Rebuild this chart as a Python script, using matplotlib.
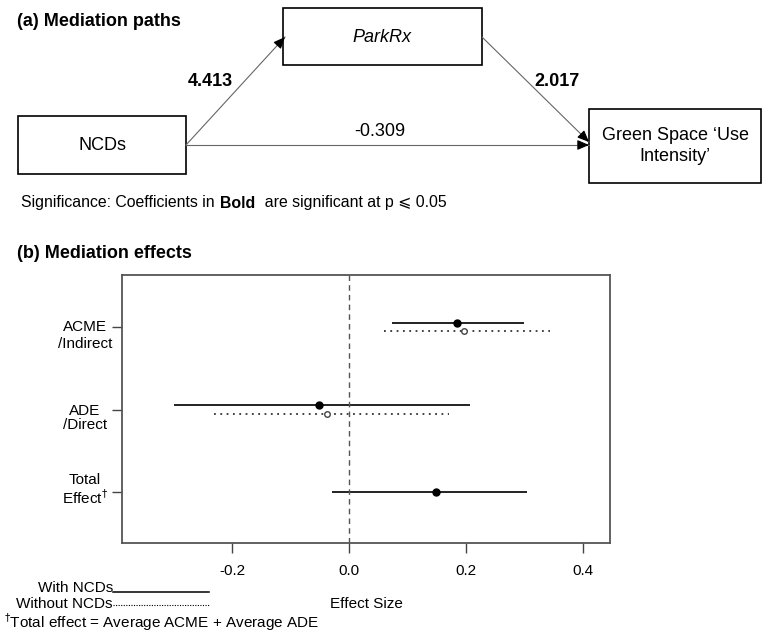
import matplotlib.pyplot as plt
import numpy as np
from matplotlib.patches import Rectangle
from matplotlib.transforms import blended_transform_factory

plt.rcParams['font.family'] = ['Liberation Sans', 'DejaVu Sans']

# Panel (a): path coefficients
coef_a = "4.413"      # NCDs -> ParkRx
coef_b = "2.017"      # ParkRx -> Green space use
coef_c = "-0.309"     # NCDs -> Green space use (direct)

# Panel (b): mediation effects (estimate, lower, upper)
effects = ['ACME', 'ADE', 'Total']
with_est = [0.184, -0.051, 0.148]
with_lo = [0.074, -0.299, -0.029]
with_hi = [0.299, 0.207, 0.305]
without_est = [0.197, -0.038]
without_lo = [0.059, -0.230]
without_hi = [0.344, 0.170]
ypos = [3, 2, 1]

fig = plt.figure(figsize=(7.7, 6.41), dpi=100)

# overlay in pixel coordinates for the diagram and notes
oa = fig.add_axes([0, 0, 1, 1])
oa.set_xlim(0, 770)
oa.set_ylim(641, 0)
oa.axis('off')

oa.text(17, 22, "(a) Mediation paths", fontsize=13, fontweight='bold', va='center')
oa.text(17, 253, "(b) Mediation effects", fontsize=13, fontweight='bold', va='center')

# boxes
for (x0, y0, x1, y1) in [(283, 8, 482, 65), (18, 116, 186, 174), (589, 109, 761, 183)]:
    oa.add_patch(Rectangle((x0, y0), x1 - x0, y1 - y0, fill=False, ec='black', lw=1.2))
oa.text(382, 37, "ParkRx", fontsize=13, style='italic', ha='center', va='center')
oa.text(102, 146, "NCDs", fontsize=13, ha='center', va='center')
oa.text(675, 146, "Green Space \u2018Use\nIntensity\u2019", fontsize=13, ha='center',
        va='center', linespacing=1.3)

# paths: thin grey line with a small black head
paths = [((186, 145), (285, 37)), ((186, 145), (589, 145)), ((482, 37), (589, 142))]
head_kw = dict(arrowstyle='-|>,head_length=0.7,head_width=0.3', color='black', lw=0.8,
               shrinkA=0, shrinkB=0)
for (x0, y0), (x1, y1) in paths:
    oa.plot([x0, x1], [y0, y1], color='#666666', lw=0.8)
    d = np.hypot(x1 - x0, y1 - y0)
    bx, by = x1 - (x1 - x0) / d * 3, y1 - (y1 - y0) / d * 3
    oa.annotate("", xy=(x1, y1), xytext=(bx, by), arrowprops=head_kw)

oa.text(210, 82, coef_a, fontsize=13, fontweight='bold', ha='center', va='center')
oa.text(557, 82, coef_b, fontsize=13, fontweight='bold', ha='center', va='center')
oa.text(380, 132, coef_c, fontsize=13, ha='center', va='center')

t1 = oa.text(21, 203, "Significance: Coefficients in ", fontsize=11.4, va='center')
t2 = oa.annotate("Bold", xy=(1, 0), xycoords=t1, xytext=(1, 0), textcoords='offset points',
                 fontsize=11.4, fontweight='bold', va='bottom')
oa.annotate("  are significant at p \u2a7d 0.05", xy=(1, 0), xycoords=t2, fontsize=11.4,
            va='bottom')

# legend and footnote
oa.text(113, 588, "With NCDs", fontsize=11, ha='right', va='center')
oa.plot([113, 209], [592, 592], color='black', lw=1.1)
oa.text(113, 604, "Without NCDs", fontsize=11, ha='right', va='center')
oa.plot([113, 209], [605, 605], color='black', lw=0.8, ls=(0, (1, 1.3)))
oa.text(4, 622, r"$^{\dagger}$Total effect = Average ACME + Average ADE", fontsize=11, va='center')

# Panel (b) plot
ax = fig.add_axes([122 / 770, (641 - 542.5) / 641, 488 / 770, 267.5 / 641])
off = 0.05
y = np.array(ypos, dtype=float)
yw = y.copy()
yw[:2] += off
ax.hlines(yw, with_lo, with_hi, color='#222222', lw=1.4)
ax.plot(with_est, yw, 'o', color='black', ms=5)
yo = y[:2] - off
ax.hlines(yo, without_lo, without_hi, color='#333333', lw=1.3, linestyles=(0, (1, 2.5)))
ax.plot(without_est, yo, 'o', mfc='white', mec='#444444', ms=4, mew=1)
ax.axvline(0, color='#555555', lw=1, ls=(0, (4, 3)))

ax.set_xlim(-0.388, 0.446)
ax.set_ylim(0.39, 3.63)
ax.set_xticks([-0.2, 0.0, 0.2, 0.4])
ax.set_xticklabels(['-0.2', '0.0', '0.2', '0.4'], fontsize=11)
ax.tick_params(axis='x', length=7, width=1, color='#444444', pad=8.5)
ax.set_yticks(ypos)
ax.set_yticklabels(['', '', ''])
ax.tick_params(axis='y', length=7, width=1, color='#444444')
ax.set_xlabel("Effect Size", fontsize=11, labelpad=14)
for s in ax.spines.values():
    s.set_color('#555555')
    s.set_linewidth(1.3)

tr = blended_transform_factory(oa.transData, ax.transData)
ylabels = ["ACME\n/Indirect", "ADE\n/Direct", "Total\nEffect$^{\\dagger}$"]
yshift = [-0.1, -0.1, 0.03]
lsp = [1.3, 1.0, 1.1]
for lab, yy, dy, ls in zip(ylabels, ypos, yshift, lsp):
    ax.text(85, yy + dy, lab, transform=tr, fontsize=11, ha='center', va='center',
            multialignment='center', linespacing=ls)

fig.savefig('out.png', dpi=100)
